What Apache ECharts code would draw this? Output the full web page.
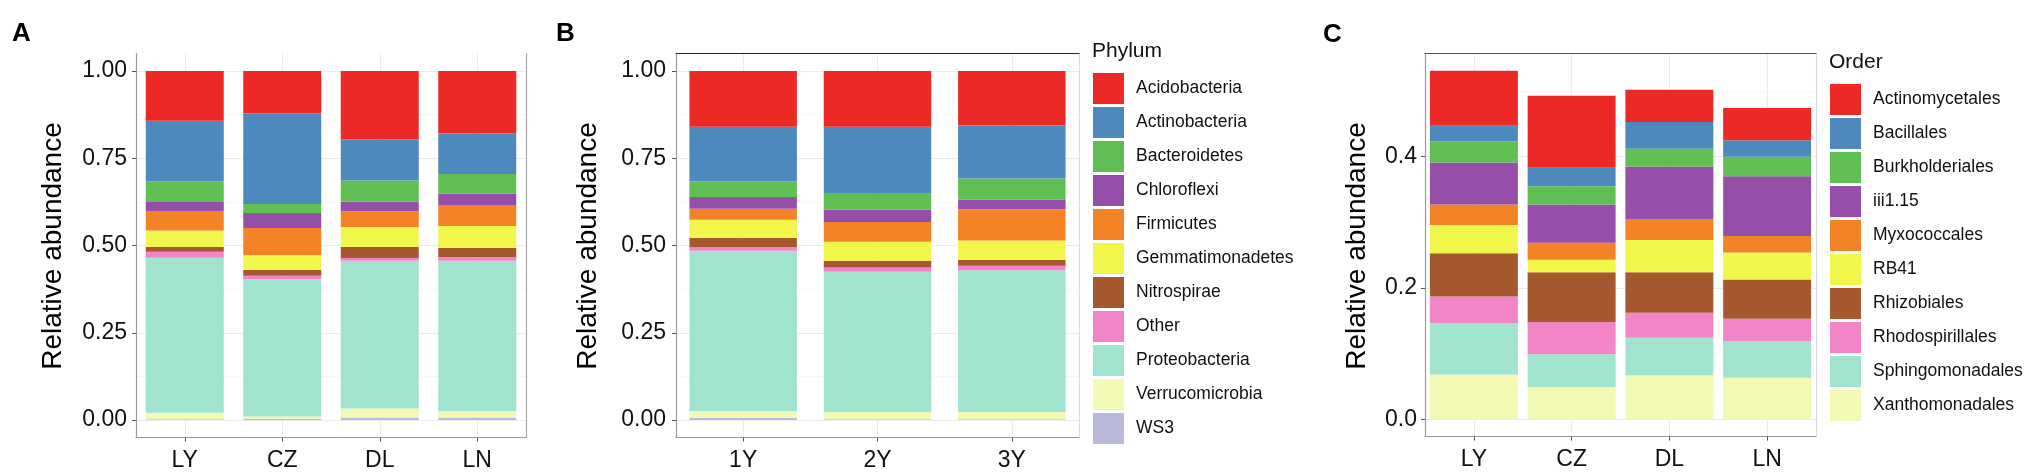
<!DOCTYPE html>
<html><head><meta charset="utf-8">
<script src="https://cdn.jsdelivr.net/npm/echarts@6/dist/echarts.min.js"></script>
<style>html,body{margin:0;padding:0;background:#fff}#c{width:2033px;height:475px}</style>
</head><body><div id="c"></div>
<script>
// ---- categories ----
const siteCats = ['LY', 'CZ', 'DL', 'LN'];
const yearCats = ['1Y', '2Y', '3Y'];

// ---- taxa (legend order, top of stack first) ----
const phylumNames = ['Acidobacteria', 'Actinobacteria', 'Bacteroidetes', 'Chloroflexi', 'Firmicutes',
  'Gemmatimonadetes', 'Nitrospirae', 'Other', 'Proteobacteria', 'Verrucomicrobia', 'WS3'];
const phylumColors = ['#EC2924', '#4E89BD', '#5FBF52', '#954FA8', '#F48226', '#F1F64A',
  '#A65831', '#F284C8', '#A0E3CE', '#F2F9B4', '#BCBADC'];
const orderNames = ['Actinomycetales', 'Bacillales', 'Burkholderiales', 'iii1.15', 'Myxococcales',
  'RB41', 'Rhizobiales', 'Rhodospirillales', 'Sphingomonadales', 'Xanthomonadales'];
const orderColors = ['#EC2924', '#4E89BD', '#5FBF52', '#954FA8', '#F48226', '#F1F64A',
  '#A65831', '#F284C8', '#A0E3CE', '#F2F9B4'];

// ---- panel A: phylum relative abundance by site (phylumNames order) ----
const phylumLY = [0.143, 0.174, 0.056, 0.028, 0.056, 0.047, 0.014, 0.017, 0.444, 0.019, 0.002];
const phylumCZ = [0.121, 0.260, 0.026, 0.043, 0.077, 0.043, 0.017, 0.010, 0.393, 0.007, 0.003];
const phylumDL = [0.196, 0.118, 0.060, 0.028, 0.045, 0.057, 0.032, 0.008, 0.423, 0.026, 0.007];
const phylumLN = [0.179, 0.116, 0.057, 0.032, 0.060, 0.063, 0.026, 0.011, 0.430, 0.019, 0.007];

// ---- panel B: phylum relative abundance by year ----
const phylum1Y = [0.160, 0.157, 0.044, 0.034, 0.031, 0.052, 0.027, 0.010, 0.459, 0.020, 0.006];
const phylum2Y = [0.160, 0.192, 0.045, 0.036, 0.056, 0.055, 0.019, 0.012, 0.402, 0.021, 0.002];
const phylum3Y = [0.156, 0.152, 0.060, 0.028, 0.090, 0.055, 0.017, 0.013, 0.406, 0.021, 0.002];

// ---- panel C: order relative abundance by site (orderNames order) ----
const orderLY = [0.084, 0.024, 0.032, 0.064, 0.031, 0.043, 0.066, 0.041, 0.078, 0.068];
const orderCZ = [0.110, 0.028, 0.028, 0.058, 0.026, 0.019, 0.076, 0.049, 0.050, 0.049];
const orderDL = [0.049, 0.041, 0.027, 0.080, 0.032, 0.049, 0.062, 0.038, 0.057, 0.067];
const orderLN = [0.049, 0.025, 0.030, 0.091, 0.025, 0.041, 0.060, 0.034, 0.056, 0.063];

// ---- tick labels ----
const yTicksAB = [0, 0.25, 0.5, 0.75, 1];
const yTicksC = [0, 0.2, 0.4];

const FF = '"Liberation Sans", Arial, sans-serif';

function stackSeries(names, colors, columns, stackId, idx, width) {
  const out = [];
  for (let i = names.length - 1; i >= 0; i--) {
    out.push({
      type: 'bar', name: names[i], stack: stackId,
      xAxisIndex: idx, yAxisIndex: idx, barWidth: width,
      itemStyle: { color: colors[i] },
      emphasis: { disabled: true },
      data: columns.map(c => c[i])
    });
  }
  return out;
}

function catAxis(gridIndex, data) {
  return {
    type: 'category', gridIndex, data, position: 'bottom',
    axisLine: { show: true, onZero: false, lineStyle: { color: '#9a9a9a', width: 1.2 } },
    axisTick: { show: true, alignWithLabel: true, length: 4, lineStyle: { color: '#555' } },
    axisLabel: { fontSize: 23, color: '#111', fontFamily: FF, margin: 12 },
    splitLine: { show: true, alignWithLabel: true, lineStyle: { color: '#EBEBEB', width: 1 } }
  };
}
function topAxis(gridIndex, data, color) {
  return {
    type: 'category', gridIndex, data, position: 'top',
    axisLine: { show: !!color, onZero: false, lineStyle: { color: color || '#fff', width: 1.2 } },
    axisTick: { show: false }, axisLabel: { show: false }, splitLine: { show: false }
  };
}
function valAxis(gridIndex, min, max, step, ticks, digits, margin) {
  return {
    type: 'value', gridIndex, min, max, minInterval: step, maxInterval: step, position: 'left',
    axisLine: { show: true, onZero: false, lineStyle: { color: '#9a9a9a', width: 1.2 } },
    axisTick: { show: true, length: 4, customValues: ticks, lineStyle: { color: '#555' } },
    axisLabel: {
      show: true, margin, fontSize: 23, color: '#111', fontFamily: FF,
      customValues: ticks, showMinLabel: true, showMaxLabel: true,
      formatter: v => ticks.some(t => Math.abs(t - v) < 1e-9) ? (+v).toFixed(digits) : ''
    },
    splitLine: { show: true, lineStyle: { color: '#EBEBEB', width: 1 } },
    minorTick: { show: false, splitNumber: 2 },
    minorSplitLine: { show: true, lineStyle: { color: '#F3F3F3', width: 0.7 } }
  };
}
function rightAxis(gridIndex, color) {
  return {
    type: 'value', gridIndex, position: 'right', min: 0, max: 1,
    axisLine: { show: true, onZero: false, lineStyle: { color, width: 1.2 } },
    axisTick: { show: false }, axisLabel: { show: false }, splitLine: { show: false }
  };
}

const chart = echarts.init(document.getElementById('c'), null, { renderer: 'canvas' });
const option = {
  animation: false,
  backgroundColor: '#fff',
  textStyle: { fontFamily: FF },
  grid: [
    { left: 136, top: 53.5, width: 390, height: 384 },
    { left: 676, top: 53.5, width: 403, height: 384 },
    { left: 1425, top: 53.6, width: 391, height: 383 }
  ],
  xAxis: [
    catAxis(0, siteCats), catAxis(1, yearCats), catAxis(2, siteCats),
    topAxis(1, yearCats, '#2a2a2a'), topAxis(2, siteCats, '#555')
  ],
  yAxis: [
    valAxis(0, -0.05, 1.05, 0.25, yTicksAB, 2, 9),
    valAxis(1, -0.05, 1.05, 0.25, yTicksAB, 2, 10),
    valAxis(2, -0.02653, 0.55705, 0.2, yTicksC, 1, 8),
    rightAxis(0, '#a8a8a8'), rightAxis(1, '#dcdcdc'), rightAxis(2, '#dcdcdc')
  ],
  legend: [
    {
      data: phylumNames, orient: 'vertical', left: 1093, top: 73, padding: 0,
      itemWidth: 31, itemHeight: 31, itemGap: 3, icon: 'rect', selectedMode: false,
      textStyle: { fontSize: 17.5, color: '#111', fontFamily: FF, padding: [0, 0, 0, 7] }
    },
    {
      data: orderNames, orient: 'vertical', left: 1830, top: 84, padding: 0,
      itemWidth: 31, itemHeight: 31, itemGap: 3, icon: 'rect', selectedMode: false,
      textStyle: { fontSize: 17.5, color: '#111', fontFamily: FF, padding: [0, 0, 0, 7] }
    }
  ],
  graphic: [
    { type: 'text', x: 12, y: 34, style: { text: 'A', fill: '#000', font: 'bold 26px ' + FF, align: 'left', verticalAlign: 'middle' } },
    { type: 'text', x: 556, y: 34, style: { text: 'B', fill: '#000', font: 'bold 26px ' + FF, align: 'left', verticalAlign: 'middle' } },
    { type: 'text', x: 1323, y: 35, style: { text: 'C', fill: '#000', font: 'bold 26px ' + FF, align: 'left', verticalAlign: 'middle' } },
    { type: 'text', x: 53, y: 246, rotation: Math.PI / 2, style: { text: 'Relative abundance', fill: '#000', font: '28px ' + FF, align: 'center', verticalAlign: 'middle' } },
    { type: 'text', x: 588, y: 246, rotation: Math.PI / 2, style: { text: 'Relative abundance', fill: '#000', font: '28px ' + FF, align: 'center', verticalAlign: 'middle' } },
    { type: 'text', x: 1357, y: 246, rotation: Math.PI / 2, style: { text: 'Relative abundance', fill: '#000', font: '28px ' + FF, align: 'center', verticalAlign: 'middle' } },
    { type: 'text', x: 1092, y: 51, style: { text: 'Phylum', fill: '#111', font: '21px ' + FF, align: 'left', verticalAlign: 'middle' } },
    { type: 'text', x: 1829, y: 62, style: { text: 'Order', fill: '#111', font: '21px ' + FF, align: 'left', verticalAlign: 'middle' } }
  ],
  series: [].concat(
    stackSeries(phylumNames, phylumColors, [phylumLY, phylumCZ, phylumDL, phylumLN], 'A', 0, '80%'),
    stackSeries(phylumNames, phylumColors, [phylum1Y, phylum2Y, phylum3Y], 'B', 1, '80%'),
    stackSeries(orderNames, orderColors, [orderLY, orderCZ, orderDL, orderLN], 'C', 2, '90%')
  )
};
chart.setOption(option);
</script>
</body></html>
